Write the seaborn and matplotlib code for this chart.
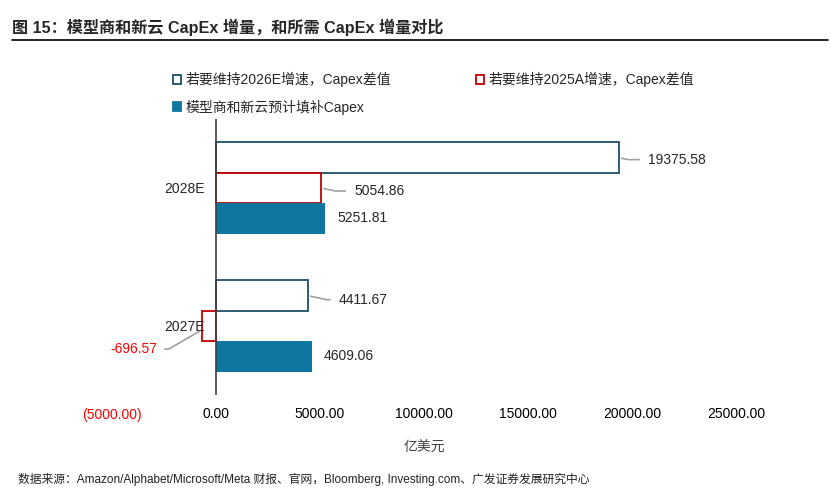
import matplotlib
matplotlib.use("Agg")
import matplotlib.pyplot as plt
import matplotlib.patches as mpatches
import seaborn as sns
import pandas as pd

# data
years = ["2028E", "2027E"]
series = ["若要维持2026E增速，Capex差值", "若要维持2025A增速，Capex差值", "模型商和新云预计填补Capex"]
gap_2026e = [19375.58, 4411.67]
gap_2025a = [5054.86, -696.57]
filled = [5251.81, 4609.06]
x_ticks = [-5000, 0, 5000, 10000, 15000, 20000, 25000]

df = pd.DataFrame({
    "year": years * 3,
    "series": [s for s in series for _ in years],
    "value": gap_2026e + gap_2025a + filled,
})

sns.set_theme(style="white")
plt.rcParams["font.family"] = ["Liberation Sans", "Noto Sans CJK SC", "DejaVu Sans"]

fig = plt.figure(figsize=(8.31, 4.91), dpi=100)
ax = fig.add_axes([112 / 831, 1 - 395 / 491, 624 / 831, 276 / 491])

edge_cols = ["#1D4F66", "#C00000", "#0E77A0"]
face_cols = ["white", "white", "#0E77A0"]

sns.barplot(data=df, y="year", x="value", hue="series", order=years, hue_order=series,
            palette=face_cols, width=0.66, orient="h", ax=ax, legend=False, saturation=1)

for cont, fc, ec in zip(ax.containers, face_cols, edge_cols):
    for p in cont.patches:
        p.set_facecolor(fc)
        p.set_edgecolor(ec)
        p.set_linewidth(1.3 if fc == "white" else 0)

ax.set_xlim(-5000, 25000)
ax.set_ylim(1.5, -0.5)
for s in ax.spines.values():
    s.set_visible(False)
ax.axvline(0, color="#404040", lw=1.2)

ax.set_xticks(x_ticks)
ax.set_xticklabels([f"({abs(t):.2f})" if t < 0 else f"{t:.2f}" for t in x_ticks])
for lbl, t in zip(ax.get_xticklabels(), x_ticks):
    lbl.set_color("#FF0000" if t < 0 else "black")
ax.tick_params(axis="x", length=0, pad=9, labelsize=10)

# category labels sit next to the zero line, not at the axes edge
ax.set_yticks([])
ax.set_ylabel("")
for i, yr in enumerate(years):
    ax.annotate(yr, xy=(0, i), xytext=(-11, -1), textcoords="offset pixels",
                ha="right", va="center", fontsize=10)
ax.set_xlabel("亿美元", fontsize=10, color="#404040", labelpad=14)

# value labels: (xytext offset in px, with leader line?)
label_style = {
    (0, 0): ((29, -2), True),
    (0, 1): ((31, -4), True),
    (1, 0): ((33, -3), True),
    (1, 1): ((34, -4), True),
    (2, 0): ((12, 0), False),
    (2, 1): ((12, 0), False),
}
for si, cont in enumerate(ax.containers):
    for yi, p in enumerate(cont.patches):
        val = p.get_width()
        yc = p.get_y() + p.get_height() / 2
        if val < 0:
            ax.annotate(f"{val:.2f}", xy=(val, yc + 0.03), xytext=(-44, -19),
                        textcoords="offset pixels", ha="right", va="center",
                        fontsize=10, color="#FF0000",
                        arrowprops=dict(arrowstyle="-", color="#A0A0A0", lw=1.2,
                                        shrinkA=3, shrinkB=2,
                                        connectionstyle="angle,angleA=0,angleB=30,rad=0"))
            continue
        (dx, dy), leader = label_style[(si, yi)]
        if leader:
            ax.annotate(f"{val:.2f}", xy=(val, yc), xytext=(dx, dy),
                        textcoords="offset pixels", ha="left", va="center", fontsize=10,
                        arrowprops=dict(arrowstyle="-", color="#A0A0A0", lw=1.2,
                                        shrinkA=4, shrinkB=2,
                                        connectionstyle="angle,angleA=0,angleB=-12,rad=0"))
        else:
            ax.annotate(f"{val:.2f}", xy=(val, yc), xytext=(dx, dy),
                        textcoords="offset pixels", ha="left", va="center", fontsize=10)

# legend, filled row by row: column 1 = series 0 and 2, column 2 = series 1
handles = [mpatches.Patch(facecolor=fc, edgecolor=ec, lw=1.3) for fc, ec in zip(face_cols, edge_cols)]
order = [0, 2, 1]
fig.legend([handles[i] for i in order], [series[i] for i in order], loc="upper left",
           bbox_to_anchor=(173 / 831, 1 - 72 / 491),
           ncol=2, frameon=False, fontsize=10, handlelength=0.6, handleheight=0.6,
           handletextpad=0.3, columnspacing=6.1, labelspacing=0.9, borderaxespad=0,
           borderpad=0)

# title, rule and source
fig.text(12 / 831, 1 - 27 / 491, "图 15：模型商和新云 CapEx 增量，和所需 CapEx 增量对比",
         fontsize=11.6, fontweight="bold", va="center", ha="left")
fig.add_artist(plt.Line2D([12 / 831, 828 / 831], [1 - 40 / 491] * 2, color="black", lw=1.2))
fig.text(18 / 831, 1 - 479 / 491,
         "数据来源：Amazon/Alphabet/Microsoft/Meta 财报、官网，Bloomberg, Investing.com、广发证券发展研究中心",
         fontsize=8.5, va="center", ha="left", color="#222222")

fig.savefig("out.png", dpi=100)
